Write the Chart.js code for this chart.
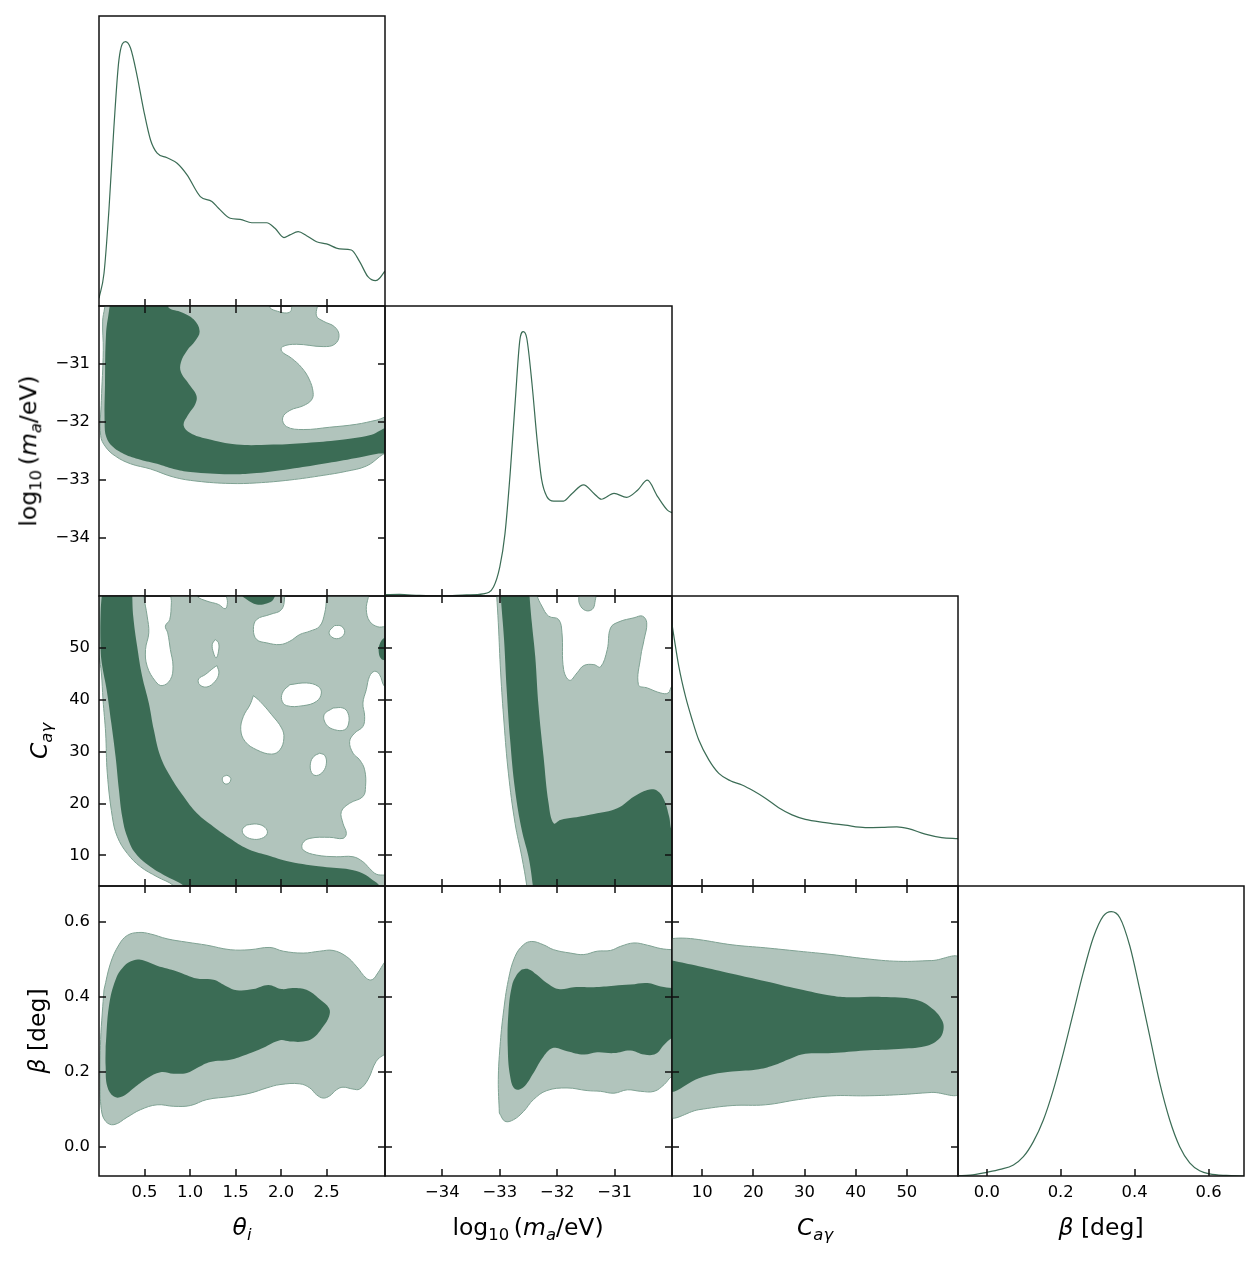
<!DOCTYPE html>
<html><head><meta charset="utf-8">
<script src="https://cdn.jsdelivr.net/npm/chart.js@4.4.1/dist/chart.umd.min.js"></script>
<style>
html,body{margin:0;padding:0;background:#fff;}
#wrap{position:relative;width:1260px;height:1262px;overflow:hidden;background:#fff;}
canvas{position:absolute;}
.lab{position:absolute;font-family:'DejaVu Sans',sans-serif;font-size:23.5px;color:#000;white-space:nowrap;line-height:1;transform:translate(-50%,-50%);}
.lab.rot{transform:translate(-50%,-50%) rotate(-90deg);}
.lab sub{font-size:70%;vertical-align:-0.3em;line-height:0;}
</style></head><body><div id="wrap"></div>
<script>
// ---------- tick values ----------
const thetaTicks = [0.5, 1.0, 1.5, 2.0, 2.5];
const logmTicks = [-34, -33, -32, -31];
const cTicks = [10, 20, 30, 40, 50];
const betaTicks = [0.0, 0.2, 0.4, 0.6];

// ---------- 1D marginals (normalised to peak = 1) ----------
const thetaGrid = [0.0,0.055,0.109,0.164,0.219,0.292,0.347,0.42,0.49,0.566,0.639,0.748,0.858,0.967,1.113,1.24,1.313,1.441,1.55,1.678,1.842,1.933,2.032,2.097,2.188,2.28,2.39,2.499,2.644,2.772,2.863,2.954,3.038,3.082,3.14];
const thetaDensity = [0.029,0.124,0.363,0.678,0.931,1.0,0.975,0.868,0.742,0.628,0.578,0.561,0.540,0.496,0.414,0.395,0.370,0.332,0.328,0.315,0.315,0.294,0.259,0.269,0.281,0.266,0.243,0.235,0.216,0.212,0.168,0.111,0.096,0.105,0.132];

const logmGrid = [-35.0,-34.75,-34.4,-33.99,-33.58,-33.29,-33.11,-33.0,-32.91,-32.82,-32.73,-32.65,-32.59,-32.53,-32.44,-32.35,-32.27,-32.18,-32.06,-31.89,-31.74,-31.54,-31.36,-31.23,-31.01,-30.79,-30.6,-30.43,-30.25,-30.08,-30.0];
const logmDensity = [0.005,0.006,0.002,0.0,0.004,0.008,0.034,0.11,0.235,0.462,0.74,0.969,1.0,0.975,0.805,0.59,0.439,0.376,0.359,0.359,0.388,0.42,0.388,0.366,0.388,0.373,0.40,0.438,0.376,0.325,0.315];

const cGrid = [4.1,5.44,6.75,8.05,9.34,11.3,13.25,15.5,17.8,20.07,22.35,24.95,27.56,30.16,34.06,37.96,41.87,45.12,48.05,50.3,53.6,56.8,60.0];
const cDensity = [0.99,0.830,0.716,0.628,0.552,0.477,0.426,0.398,0.382,0.359,0.332,0.296,0.269,0.252,0.240,0.230,0.221,0.222,0.224,0.217,0.196,0.183,0.179];

const betaGrid = [-0.079,-0.045,0.0,0.036,0.072,0.099,0.126,0.153,0.18,0.207,0.234,0.261,0.288,0.315,0.337,0.36,0.387,0.414,0.441,0.468,0.495,0.522,0.549,0.576,0.603,0.648,0.696];
const betaDensity = [0.001,0.003,0.014,0.025,0.042,0.073,0.130,0.212,0.326,0.465,0.617,0.769,0.901,0.983,1.0,0.977,0.87,0.705,0.528,0.352,0.212,0.111,0.05,0.02,0.008,0.002,0.0];

// ---------- 2D credible regions: [x, y] outlines ----------
// theta_i vs log10 m_a
const thLogm95 = [[0.07,-29.9],[1.85,-29.9],[1.878,-30.03],[1.96,-30.09],[2.06,-30.12],[2.11,-30.08],[2.13,-29.9],[2.389,-29.9],[2.389,-30.17],[2.462,-30.26],[2.589,-30.36],[2.637,-30.51],[2.589,-30.66],[2.462,-30.70],[2.17,-30.66],[2.017,-30.70],[2.006,-30.78],[2.115,-30.90],[2.225,-31.06],[2.308,-31.26],[2.352,-31.49],[2.334,-31.62],[2.243,-31.72],[2.097,-31.80],[2.017,-31.93],[2.06,-32.08],[2.243,-32.13],[2.535,-32.09],[2.826,-32.04],[3.045,-31.97],[3.2,-31.92],[3.2,-32.43],[3.08,-32.60],[2.936,-32.76],[2.717,-32.85],[2.462,-32.92],[2.097,-33.00],[1.732,-33.05],[1.44,-33.06],[1.076,-33.02],[0.82,-32.95],[0.565,-32.81],[0.346,-32.72],[0.182,-32.59],[0.073,-32.43],[0.018,-32.23],[0.026,-31.63],[0.047,-30.77],[0.04,-30.26],[0.062,-30.03]];
const thLogm68 = [[0.128,-29.9],[0.766,-29.9],[0.766,-30.03],[0.912,-30.11],[1.039,-30.23],[1.105,-30.43],[1.058,-30.60],[0.966,-30.77],[0.90,-30.97],[0.90,-31.14],[0.985,-31.34],[1.069,-31.54],[1.058,-31.69],[0.974,-31.89],[0.93,-32.06],[1.003,-32.19],[1.185,-32.29],[1.513,-32.39],[1.915,-32.39],[2.279,-32.36],[2.644,-32.31],[2.972,-32.23],[3.2,-32.10],[3.2,-32.50],[3.045,-32.55],[2.826,-32.62],[2.462,-32.72],[2.097,-32.81],[1.732,-32.88],[1.44,-32.90],[1.003,-32.86],[0.82,-32.81],[0.638,-32.72],[0.456,-32.65],[0.274,-32.55],[0.146,-32.42],[0.08,-32.26],[0.062,-32.03],[0.066,-31.34],[0.077,-30.49],[0.11,-30.08]];

// theta_i vs C
const thC95 = [[-0.02,61.3],[0.492,61.3],[0.492,59.98],[0.529,56.12],[0.547,52.9],[0.511,49.68],[0.529,46.46],[0.62,43.56],[0.693,42.72],[0.784,43.88],[0.813,46.46],[0.784,49.68],[0.755,52.9],[0.729,54.19],[0.777,55.47],[0.795,58.7],[0.802,61.3],[1.076,61.3],[1.076,59.98],[1.185,59.02],[1.313,58.37],[1.386,57.54],[1.411,58.7],[1.404,61.3],[2.042,61.3],[2.042,60.18],[2.006,57.41],[1.878,56.44],[1.732,55.47],[1.696,53.54],[1.732,51.61],[1.842,50.97],[1.988,50.64],[2.097,51.29],[2.206,52.58],[2.316,53.22],[2.425,54.19],[2.48,56.76],[2.498,59.34],[2.505,61.3],[2.943,61.3],[2.936,57.41],[2.972,55.15],[3.063,54.06],[3.2,53.86],[3.2,42.59],[3.136,42.59],[3.082,44.85],[3.027,45.49],[2.972,44.52],[2.936,41.95],[2.899,39.37],[2.918,36.8],[2.899,34.86],[2.808,33.57],[2.753,31.96],[2.79,29.71],[2.863,28.42],[2.918,26.49],[2.928,23.27],[2.899,21.34],[2.753,20.05],[2.662,18.44],[2.68,16.18],[2.717,14.25],[2.68,13.28],[2.535,13.48],[2.316,13.28],[2.236,12.32],[2.243,11.03],[2.389,10.06],[2.608,9.74],[2.79,9.74],[2.899,8.78],[2.972,7.49],[3.045,6.39],[3.136,6.2],[3.2,6.2],[3.2,3.0],[0.821,3.0],[0.821,4.14],[0.638,5.88],[0.456,7.81],[0.31,10.39],[0.201,13.61],[0.146,17.47],[0.091,25.85],[0.073,33.57],[0.044,40.02],[0.026,45.17],[0.0,48.39],[-0.02,50.0]];
const thCHoles = [
  [[1.276,51.61],[1.313,50.97],[1.313,49.36],[1.287,48.07],[1.258,49.03],[1.244,50.64]],
  [[1.295,46.59],[1.317,45.17],[1.276,43.56],[1.185,42.46],[1.105,42.91],[1.094,44.01],[1.167,44.85],[1.258,46.14]],
  [[2.097,42.91],[2.279,43.24],[2.407,42.59],[2.443,41.3],[2.389,39.69],[2.243,38.86],[2.061,38.86],[2.006,40.02],[2.024,41.63]],
  [[2.589,54.32],[2.662,54.19],[2.699,53.03],[2.651,51.93],[2.571,51.93],[2.527,53.03]],
  [[1.696,40.79],[1.769,39.69],[1.896,37.12],[2.006,34.54],[2.031,32.61],[1.988,30.35],[1.896,29.52],[1.732,30.35],[1.605,31.96],[1.557,34.22],[1.586,36.8],[1.659,39.05]],
  [[2.571,38.41],[2.68,38.41],[2.735,37.44],[2.743,35.51],[2.699,34.22],[2.589,34.22],[2.498,35.19],[2.473,37.12]],
  [[2.425,29.71],[2.48,29.26],[2.498,27.78],[2.462,26.17],[2.389,25.39],[2.334,25.97],[2.323,27.78],[2.36,29.07]],
  [[1.404,25.46],[1.441,25.07],[1.448,24.56],[1.426,23.91],[1.386,23.78],[1.36,24.24],[1.36,25.07]],
  [[1.623,15.86],[1.732,16.05],[1.823,15.41],[1.849,14.25],[1.787,13.28],[1.678,13.16],[1.594,13.93],[1.575,15.02]]
];
const thC68 = [[0.036,61.3],[0.365,61.3],[0.365,60.18],[0.376,56.12],[0.419,50.32],[0.474,44.52],[0.547,39.37],[0.602,34.22],[0.675,29.07],[0.784,25.2],[0.93,21.34],[1.076,18.12],[1.258,15.54],[1.441,13.28],[1.623,11.35],[1.842,10.06],[2.097,8.78],[2.462,7.81],[2.753,7.3],[2.899,6.52],[3.009,5.23],[3.082,4.14],[3.082,3.0],[0.93,3.0],[0.93,4.14],[0.748,5.88],[0.565,7.81],[0.401,10.39],[0.31,13.61],[0.255,17.47],[0.219,22.62],[0.182,29.07],[0.135,35.51],[0.084,41.95],[0.036,46.46],[0.018,49.68],[0.018,56.76]];
const thC68Top = [[1.568,61.3],[1.568,60.18],[1.623,59.34],[1.732,58.37],[1.842,58.57],[1.915,59.34],[1.933,61.3]];
const thC68Edge = [[3.2,51.93],[3.136,51.93],[3.082,50.64],[3.074,49.03],[3.1,47.9],[3.136,47.62],[3.2,47.62]];

// log10 m_a vs C
const logmC95 = [[-33.06,61.3],[-32.354,61.3],[-32.354,60.18],[-32.267,58.05],[-32.15,56.12],[-31.975,55.47],[-31.917,52.9],[-31.888,45.81],[-31.783,43.75],[-31.655,45.17],[-31.537,46.59],[-31.362,46.78],[-31.245,46.33],[-31.128,49.68],[-31.07,53.86],[-30.924,55.02],[-30.661,55.8],[-30.515,56.12],[-30.44,54.83],[-30.486,51.61],[-30.544,48.39],[-30.585,42.91],[-30.428,42.27],[-30.195,41.3],[-30.067,41.3],[-30.0,42.59],[-29.9,42.59],[-29.9,3.0],[-32.53,3.0],[-32.53,4.14],[-32.617,9.74],[-32.734,16.18],[-32.85,25.85],[-32.926,35.51],[-32.985,45.17],[-33.026,54.83],[-33.055,60.18]];
const logmC95Blob = [[-31.625,61.3],[-31.625,60.18],[-31.608,58.37],[-31.508,57.21],[-31.391,57.41],[-31.344,58.7],[-31.344,61.3]];
const logmC68 = [[-32.985,61.3],[-32.483,61.3],[-32.483,60.18],[-32.442,54.83],[-32.383,48.39],[-32.325,38.73],[-32.238,29.07],[-32.15,20.05],[-32.062,16.18],[-31.946,16.83],[-31.713,17.28],[-31.362,17.99],[-30.953,19.08],[-30.661,21.34],[-30.428,22.62],[-30.253,22.43],[-30.137,20.69],[-30.049,17.47],[-30.0,14.9],[-29.9,14.9],[-29.9,3.0],[-32.424,3.0],[-32.424,4.14],[-32.50,9.74],[-32.617,14.9],[-32.734,22.62],[-32.82,32.29],[-32.88,41.95],[-32.926,51.61],[-32.985,60.18]];

// theta_i vs beta
const thBeta95 = [[0.055,0.419],[0.128,0.491],[0.219,0.539],[0.31,0.564],[0.438,0.572],[0.565,0.568],[0.748,0.555],[0.966,0.546],[1.185,0.538],[1.441,0.526],[1.659,0.526],[1.878,0.532],[2.024,0.522],[2.243,0.517],[2.425,0.522],[2.571,0.524],[2.717,0.508],[2.826,0.482],[2.936,0.45],[3.001,0.446],[3.063,0.464],[3.136,0.492],[3.2,0.51],[3.2,0.25],[3.136,0.246],[3.045,0.228],[2.954,0.179],[2.863,0.154],[2.79,0.154],[2.68,0.159],[2.608,0.152],[2.535,0.136],[2.462,0.13],[2.389,0.139],[2.316,0.157],[2.206,0.168],[1.988,0.166],[1.842,0.157],[1.659,0.143],[1.441,0.134],[1.185,0.126],[1.003,0.11],[0.821,0.108],[0.638,0.112],[0.456,0.099],[0.31,0.079],[0.164,0.059],[0.073,0.068],[0.026,0.099],[0.011,0.179],[0.018,0.286],[0.036,0.357]];
const thBeta68 = [[0.073,0.268],[0.109,0.375],[0.182,0.446],[0.274,0.482],[0.383,0.498],[0.492,0.497],[0.638,0.483],[0.857,0.468],[1.076,0.449],[1.258,0.446],[1.404,0.428],[1.513,0.418],[1.696,0.421],[1.86,0.432],[2.006,0.421],[2.134,0.424],[2.279,0.419],[2.425,0.394],[2.527,0.370],[2.527,0.348],[2.462,0.321],[2.352,0.29],[2.243,0.281],[2.097,0.281],[1.988,0.284],[1.805,0.264],[1.623,0.246],[1.441,0.232],[1.222,0.226],[1.076,0.21],[0.966,0.197],[0.821,0.195],[0.675,0.199],[0.529,0.183],[0.383,0.157],[0.255,0.134],[0.164,0.134],[0.091,0.161],[0.073,0.215]];

// log10 m_a vs beta
const logmBeta95 = [[-33.008,0.09],[-32.909,0.068],[-32.763,0.072],[-32.588,0.094],[-32.413,0.126],[-32.18,0.15],[-31.829,0.157],[-31.479,0.15],[-31.245,0.148],[-31.012,0.143],[-30.778,0.152],[-30.544,0.148],[-30.311,0.148],[-30.137,0.166],[-30.0,0.188],[-29.9,0.188],[-29.9,0.526],[-30.0,0.526],[-30.195,0.529],[-30.428,0.538],[-30.661,0.544],[-30.895,0.535],[-31.07,0.524],[-31.304,0.522],[-31.537,0.513],[-31.771,0.517],[-32.062,0.526],[-32.238,0.539],[-32.442,0.548],[-32.588,0.539],[-32.734,0.508],[-32.85,0.446],[-32.938,0.357],[-32.996,0.268],[-33.026,0.179]];
const logmBeta68 = [[-32.617,0.473],[-32.5,0.474],[-32.354,0.459],[-32.18,0.437],[-31.975,0.421],[-31.713,0.426],[-31.362,0.426],[-31.012,0.43],[-30.72,0.433],[-30.428,0.437],[-30.195,0.428],[-30.0,0.424],[-29.9,0.424],[-29.9,0.29],[-30.0,0.29],[-30.137,0.272],[-30.282,0.248],[-30.486,0.246],[-30.72,0.257],[-31.012,0.25],[-31.304,0.252],[-31.537,0.246],[-31.829,0.255],[-32.062,0.264],[-32.238,0.241],[-32.413,0.197],[-32.588,0.159],[-32.734,0.154],[-32.82,0.188],[-32.862,0.268],[-32.85,0.357],[-32.791,0.428],[-32.705,0.459]];

// C vs beta
const cBeta95 = [[3.5,0.555],[6.1,0.557],[9.35,0.553],[15.85,0.539],[22.35,0.531],[28.86,0.522],[35.36,0.513],[41.86,0.502],[48.37,0.495],[54.87,0.497],[60.5,0.499],[60.5,0.148],[54.87,0.145],[48.37,0.139],[41.86,0.136],[35.36,0.136],[28.86,0.126],[22.35,0.112],[15.85,0.11],[9.35,0.099],[3.5,0.086]];
const cBeta68 = [[3.5,0.499],[9.35,0.482],[15.85,0.462],[22.35,0.442],[28.86,0.421],[35.36,0.403],[38.61,0.399],[45.11,0.40],[51.62,0.393],[54.87,0.37],[56.82,0.339],[57.15,0.312],[56.17,0.286],[53.57,0.268],[48.37,0.261],[41.86,0.257],[35.36,0.25],[30.16,0.248],[27.56,0.237],[24.3,0.219],[21.06,0.207],[15.85,0.201],[12.6,0.195],[9.35,0.183],[3.5,0.154]];

// ---------- styling / layout ----------
const DARK = '#3b6c55', LIGHT = '#b1c4bc', EDGE = '#7fa293', LINE = '#3b6c55';
const colL = [99, 385, 672, 958], colR = [385, 672, 958, 1244];
const rowT = [16, 306, 596, 886], rowB = [306, 596, 886, 1176];
const M = 8;
const minus = v => (v < 0 ? '\u2212' + Math.abs(v) : String(v));
const AX = {
  theta: {min: 0, max: 3.1416, ticks: thetaTicks, fmt: v => v.toFixed(1)},
  logm:  {min: -35, max: -30, ticks: logmTicks, fmt: v => minus(v)},
  c:     {min: 4.1, max: 60, ticks: cTicks, fmt: v => String(v)},
  beta:  {min: -0.078, max: 0.696, ticks: betaTicks, fmt: v => v.toFixed(1)}
};
const params = ['theta', 'logm', 'c', 'beta'];
const marg = {
  theta: [thetaGrid, thetaDensity], logm: [logmGrid, logmDensity],
  c: [cGrid, cDensity], beta: [betaGrid, betaDensity]
};
const regions = {
  '01': {outer: [thLogm95], holes: [], inner: [thLogm68]},
  '02': {outer: [thC95], holes: thCHoles, inner: [thC68, thC68Top, thC68Edge]},
  '12': {outer: [logmC95, logmC95Blob], holes: [], inner: [logmC68]},
  '03': {outer: [thBeta95], holes: [], inner: [thBeta68]},
  '13': {outer: [logmBeta95], holes: [], inner: [logmBeta68]},
  '23': {outer: [cBeta95], holes: [], inner: [cBeta68]}
};

const framePlugin = {
  id: 'frame',
  afterDraw(chart, args, opts) {
    const {ctx, chartArea: a, scales} = chart;
    ctx.save();
    ctx.strokeStyle = '#111';
    ctx.lineWidth = 1.5;
    const L = 7;
    ctx.beginPath();
    for (const v of opts.xTicks) {
      const px = Math.round(scales.x.getPixelForValue(v));
      ctx.moveTo(px, a.bottom); ctx.lineTo(px, a.bottom - L);
      if (opts.all) { ctx.moveTo(px, a.top); ctx.lineTo(px, a.top + L); }
    }
    if (opts.all) {
      for (const v of opts.yTicks) {
        const py = Math.round(scales.y.getPixelForValue(v));
        ctx.moveTo(a.left, py); ctx.lineTo(a.left + L, py);
        ctx.moveTo(a.right, py); ctx.lineTo(a.right - L, py);
      }
    }
    ctx.stroke();
    ctx.strokeRect(a.left, a.top, a.right - a.left, a.bottom - a.top);
    ctx.restore();
  }
};

function closed(arr) { return arr.concat([arr[0]]).map(p => ({x: p[0], y: p[1]})); }
function poly(arr, fillColor, edge, order) {
  return {data: closed(arr), showLine: true, fill: 'shape', backgroundColor: fillColor,
    borderColor: edge || 'rgba(0,0,0,0)', borderWidth: edge ? 1 : 0.01,
    pointRadius: 0, pointHoverRadius: 0, tension: 0.4, clip: 0, order: order};
}

const wrap = document.getElementById('wrap');
const tickFont = {family: "'DejaVu Sans', sans-serif", size: 16.4};

function makePanel(r, c) {
  const xa = AX[params[c]];
  const diag = (r === c);
  const ya = diag ? {min: 0, max: 1.097, ticks: [], fmt: v => ''} : AX[params[r]];
  const showY = (c === 0 && r > 0), showX = (r === 3);
  const left = showY ? 0 : colL[c] - M;
  const top = rowT[r] - M;
  const right = colR[c] + M;
  const bottom = showX ? 1262 : rowB[r] + M;
  const cv = document.createElement('canvas');
  cv.width = right - left; cv.height = bottom - top;
  cv.style.left = left + 'px'; cv.style.top = top + 'px';
  wrap.appendChild(cv);

  let datasets = [];
  if (diag) {
    const [g, d] = marg[params[c]];
    datasets.push({data: g.map((x, i) => ({x: x, y: d[i]})), showLine: true, fill: false,
      borderColor: LINE, borderWidth: 1.2, pointRadius: 0, cubicInterpolationMode: 'monotone'});
  } else {
    const reg = regions['' + c + r];
    reg.outer.forEach(p => datasets.push(poly(p, LIGHT, EDGE, 3)));
    reg.holes.forEach(p => datasets.push(poly(p, '#ffffff', EDGE, 2)));
    reg.inner.forEach(p => datasets.push(poly(p, DARK, null, 1)));
  }

  new Chart(cv, {
    type: 'scatter',
    data: {datasets},
    options: {
      responsive: false, animation: false, devicePixelRatio: 1, events: [],
      layout: {padding: {left: showY ? 0 : M, right: M, top: M, bottom: showX ? 0 : M}},
      plugins: {legend: {display: false}, tooltip: {enabled: false},
        frame: {xTicks: xa.ticks, yTicks: ya.ticks, all: !diag}},
      scales: {
        x: {type: 'linear', min: xa.min, max: xa.max, display: showX,
          grid: {display: false, drawTicks: false}, border: {display: false},
          afterBuildTicks: s => { s.ticks = xa.ticks.map(v => ({value: v})); },
          afterFit: s => { if (showX) { s.height = 1262 - 1176; s.paddingLeft = 0; s.paddingRight = 0; } },
          ticks: {autoSkip: false, maxRotation: 0, minRotation: 0, padding: 7, color: '#000',
            font: tickFont, callback: v => xa.fmt(v)}},
        y: {type: 'linear', min: ya.min, max: ya.max, display: showY,
          grid: {display: false, drawTicks: false}, border: {display: false},
          afterBuildTicks: s => { s.ticks = ya.ticks.map(v => ({value: v})); },
          afterFit: s => { if (showY) { s.width = colL[0]; s.paddingTop = 0; s.paddingBottom = 0; } },
          ticks: {autoSkip: false, padding: 9, color: '#000', font: tickFont, callback: v => ya.fmt(v)}}
      }
    },
    plugins: [framePlugin]
  });
}

for (let r = 0; r < 4; r++) for (let c = 0; c <= r; c++) makePanel(r, c);

// ---------- axis titles ----------
const titles = [
  {html: '<i>θ</i><sub><i>i</i></sub>', x: 242, y: 1228, rot: false},
  {html: 'log<sub>10</sub>\u2009(<i>m</i><sub><i>a</i></sub>/eV)', x: 528, y: 1228, rot: false},
  {html: '<i>C</i><sub><i>aγ</i></sub>', x: 815, y: 1228, rot: false},
  {html: '<i>β</i> [deg]', x: 1101, y: 1228, rot: false},
  {html: 'log<sub>10</sub>\u2009(<i>m</i><sub><i>a</i></sub>/eV)', x: 29, y: 451, rot: true},
  {html: '<i>C</i><sub><i>aγ</i></sub>', x: 40, y: 741, rot: true},
  {html: '<i>β</i> [deg]', x: 38, y: 1031, rot: true}
];
titles.forEach(t => {
  const d = document.createElement('div');
  d.className = 'lab' + (t.rot ? ' rot' : '');
  d.innerHTML = t.html;
  d.style.left = t.x + 'px'; d.style.top = t.y + 'px';
  wrap.appendChild(d);
});
</script></body></html>
